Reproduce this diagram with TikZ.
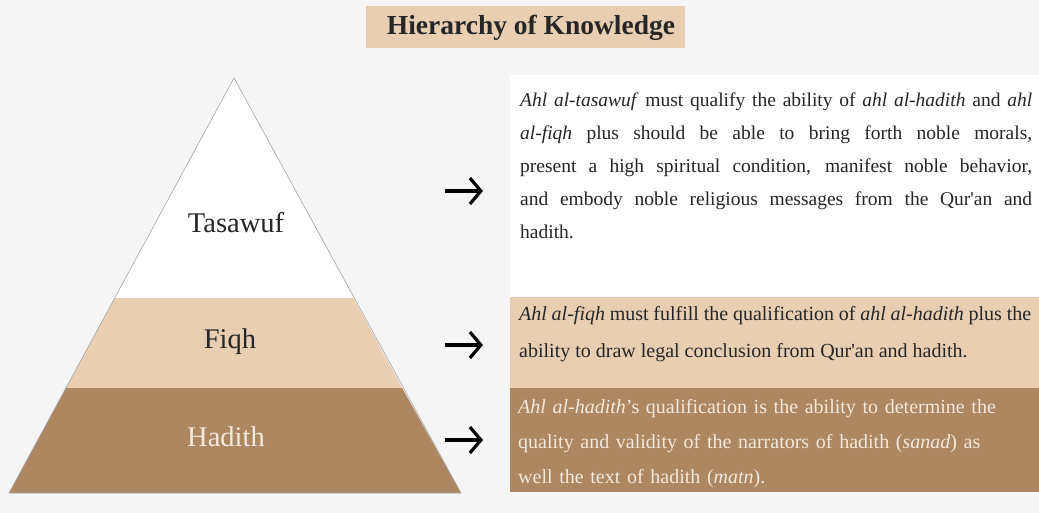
\documentclass[tikz,border=0pt]{standalone}
\usepackage{fontspec}
\setmainfont{Liberation Serif}
\newfontfamily\straightserif{Liberation Serif}[Ligatures=TeXOff]
\usetikzlibrary{arrows.meta}
\definecolor{bgGray}{HTML}{F5F5F5}
\definecolor{tanLight}{HTML}{E9CEB2}
\definecolor{brownDark}{HTML}{AD8662}
\definecolor{creamText}{HTML}{F3E9DD}
\definecolor{inkGray}{HTML}{262626}
\newcommand\apos{{\straightserif'}}
\begin{document}
\begin{tikzpicture}[x=1pt,y=-1pt,line join=round,>={Straight Barb[length=11pt,width=26pt]},
    every node/.style={inner sep=0pt,text=inkGray},
    layer/.style={font=\fontsize{28.5}{30}\selectfont},
    desc/.style={anchor=north west,text width=512pt,align=justify},
    pointer/.style={->,line width=3.2pt,black}]
    \useasboundingbox (0,0) rectangle (1039,513);
    \fill[bgGray] (0,0) rectangle (1039,513);
    % title
    \fill[tanLight] (366,6) rectangle (685,48);
    \node (title) at (531,28) {\fontsize{27.5}{30}\selectfont\bfseries Hierarchy of Knowledge};
    % pyramid
    \fill[white] (234,78) -- (114.7,298) -- (353.3,298) -- cycle;
    \fill[tanLight] (114.7,298) -- (353.3,298) -- (402.1,388) -- (65.9,388) -- cycle;
    \fill[brownDark] (65.9,388) -- (402.1,388) -- (461,493) -- (9,493) -- cycle;
    \draw[gray!70,line width=.6pt] (234,78) -- (9,493) -- (461,493) -- cycle;
    \node[layer] (tasawuf) at (236,223) {Tasawuf};
    \node[layer] (fiqh) at (230,342) {Fiqh};
    \node[layer,text=creamText] (hadith) at (226,437) {Hadith};
    % boxes
    \fill[white] (510,75) rectangle (1039,297);
    \fill[tanLight] (510,297) rectangle (1039,388);
    \fill[brownDark] (510,388) rectangle (1039,492);
    \node[desc,font=\fontsize{19.5}{33}\selectfont] (descT) at (520,93)
        {\textit{Ahl al-tasawuf} must qualify the ability of \textit{ahl al-hadith} and \textit{ahl}\linebreak
        \textit{al-fiqh} plus should be able to bring forth noble morals,\linebreak
        present a high spiritual condition, manifest noble behavior,\linebreak
        and embody noble religious messages from the Qur\apos an and\linebreak
        hadith.};
    \node[desc,font=\fontsize{20}{37}\selectfont] (descF) at (519,306)
        {\textit{Ahl al-fiqh} must fulfill the qualification of \textit{ahl al-hadith} plus the\linebreak
        ability to draw legal conclusion from Qur\apos an and hadith.};
    \node[desc,align=left,text=creamText,font=\fontsize{20}{35}\selectfont] (descH) at (518,399)
        {\textit{Ahl al-hadith}'s qualification is the ability to determine the\\
        quality and validity of the narrators of hadith (\textit{sanad}) as\\
        well the text of hadith (\textit{matn}).};
    % arrows
    \coordinate (fromT) at (445,191); \coordinate (toT) at (483,191);
    \coordinate (fromF) at (445,345); \coordinate (toF) at (483,345);
    \coordinate (fromH) at (445,440); \coordinate (toH) at (483,440);
    \draw[pointer] (fromT) -- (toT);
    \draw[pointer] (fromF) -- (toF);
    \draw[pointer] (fromH) -- (toH);
\end{tikzpicture}
\end{document}
